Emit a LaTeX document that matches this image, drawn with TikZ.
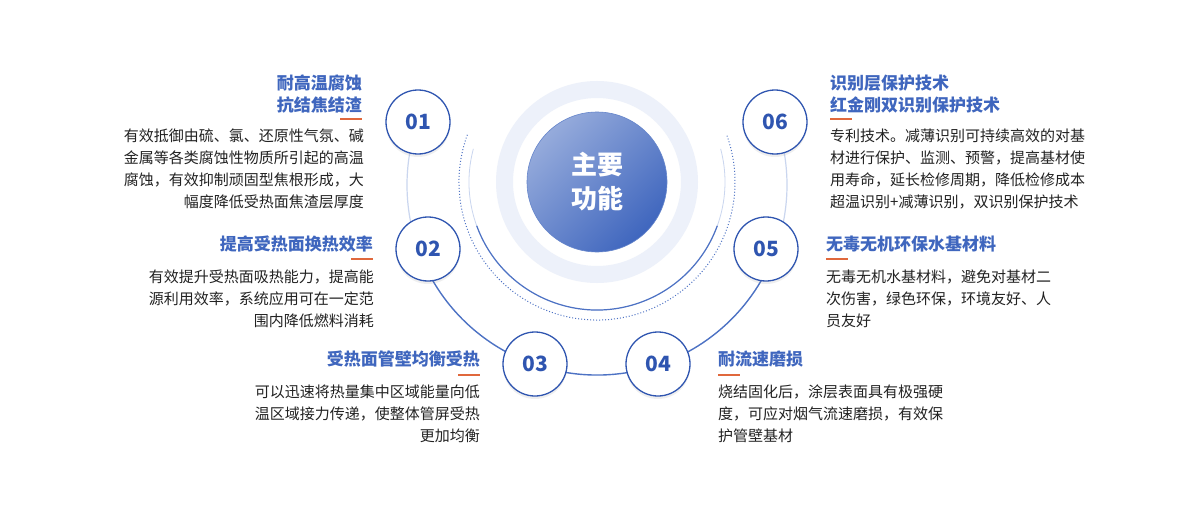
\documentclass[tikz,border=0pt]{standalone}
\usepackage{fontspec}
\setmainfont{Noto Sans CJK SC}
\usetikzlibrary{shadows}
\definecolor{mainblue}{HTML}{3F66BE}
\definecolor{numblue}{HTML}{2F55B0}
\definecolor{lineblue}{HTML}{4D72C4}
\definecolor{paleblue}{HTML}{CAD6EF}
\definecolor{ringblue}{HTML}{EDF1FA}
\definecolor{dashorange}{HTML}{E0683C}
\definecolor{bodytext}{HTML}{222222}

\begin{document}
\begin{tikzpicture}[x=1pt,y=-1pt]
\tikzset{
  numcircle/.style={draw=numblue, line width=1.3pt, circle, fill=white, minimum size=64pt,
    font=\fontsize{21}{21}\selectfont\bfseries, text=numblue,
    drop shadow={shadow xshift=0pt, shadow yshift=-3pt, opacity=0.12}},
  title/.style={font=\fontsize{17}{20}\selectfont\bfseries, text=mainblue, inner sep=0pt},
  body/.style={font=\fontsize{15}{22}\selectfont, text=bodytext, inner sep=0pt},
  uline/.style={dashorange, line width=1.2pt}
}
\fill[white] (0,0) rectangle (1200,519);
\useasboundingbox (0,0) rectangle (1200,519);

% center rings
\fill[ringblue, even odd rule] (597,182) circle (101) (597,182) circle (84);
\draw[paleblue, line width=0.8pt] (597,182) ++(195:128) arc (195:-15:128);
\draw[lineblue, line width=1.2pt] (597,182) ++(160:128) arc (160:20:128);
\draw[lineblue, dotted, line width=1pt] (597,182) ++(200:138) arc (200:-20:138);
\shade[left color=mainblue!55!white, right color=mainblue, shading angle=45] (597,182) circle (70);
\node[circle, minimum size=140pt, draw=mainblue!80, line width=0.6pt] (core) at (597,182) {};
\node[font=\fontsize{26}{34}\selectfont\bfseries, text=white, align=center] at (core) {主要\\功能};

% big arc
\draw[paleblue, line width=1.2pt] (597,185) ++(200:190) arc (200:158:190);
\draw[lineblue, line width=1.4pt] (597,185) ++(158:190) arc (158:22:190);
\draw[paleblue, line width=1.2pt] (597,185) ++(22:190) arc (22:-20:190);

% number circles
\node[numcircle] (n1) at (418,122) {01};
\node[numcircle] (n2) at (428,249) {02};
\node[numcircle] (n3) at (535,364) {03};
\node[numcircle] (n4) at (658,364) {04};
\node[numcircle] (n5) at (766,249) {05};
\node[numcircle] (n6) at (775,122) {06};

% left side
\node[title, anchor=base east] (t1a) at (362,90) {耐高温腐蚀};
\node[title, anchor=base east] (t1b) at (362,111) {抗结焦结渣};
\draw[uline] (340,119) -- (362,119);
\foreach \t [count=\i] in {有效抵御由硫、氯、还原性气氛、碱, 金属等各类腐蚀性物质所引起的高温, 腐蚀，有效抑制顽固型焦根形成，大, 幅度降低受热面焦渣层厚度}
  \node[body, anchor=base east] (b1\i) at (364,141+22*\i-22) {\t};

\node[title, anchor=base east] (t2) at (373,250) {提高受热面换热效率};
\draw[uline] (351,259) -- (373,259);
\foreach \t [count=\i] in {有效提升受热面吸热能力，提高能, 源利用效率，系统应用可在一定范, 围内降低燃料消耗}
  \node[body, anchor=base east] (b2\i) at (374,282+22*\i-22) {\t};

\node[title, anchor=base east] (t3) at (480,365) {受热面管壁均衡受热};
\draw[uline] (458,375) -- (480,375);
\foreach \t [count=\i] in {可以迅速将热量集中区域能量向低, 温区域接力传递，使整体管屏受热, 更加均衡}
  \node[body, anchor=base east] (b3\i) at (480,397+22*\i-22) {\t};

% right side
\node[title, anchor=base west] (t4) at (718,365) {耐流速磨损};
\draw[uline] (718,375) -- (740,375);
\foreach \t [count=\i] in {烧结固化后，涂层表面具有极强硬, 度，可应对烟气流速磨损，有效保, 护管壁基材}
  \node[body, anchor=base west] (b4\i) at (718,397+22*\i-22) {\t};

\node[title, anchor=base west] (t5) at (826,250) {无毒无机环保水基材料};
\draw[uline] (826,259) -- (848,259);
\foreach \t [count=\i] in {无毒无机水基材料，避免对基材二, 次伤害，绿色环保，环境友好、人, 员友好}
  \node[body, anchor=base west] (b5\i) at (826,282+22*\i-22) {\t};

\node[title, anchor=base west] (t6a) at (830,90) {识别层保护技术};
\node[title, anchor=base west] (t6b) at (830,111) {红金刚双识别保护技术};
\draw[uline] (830,119) -- (852,119);
\foreach \t [count=\i] in {专利技术。减薄识别可持续高效的对基, 材进行保护、监测、预警，提高基材使, 用寿命，延长检修周期，降低检修成本, 超温识别+减薄识别，双识别保护技术}
  \node[body, anchor=base west] (b6\i) at (830,141+22*\i-22) {\t};
\end{tikzpicture}
\end{document}
